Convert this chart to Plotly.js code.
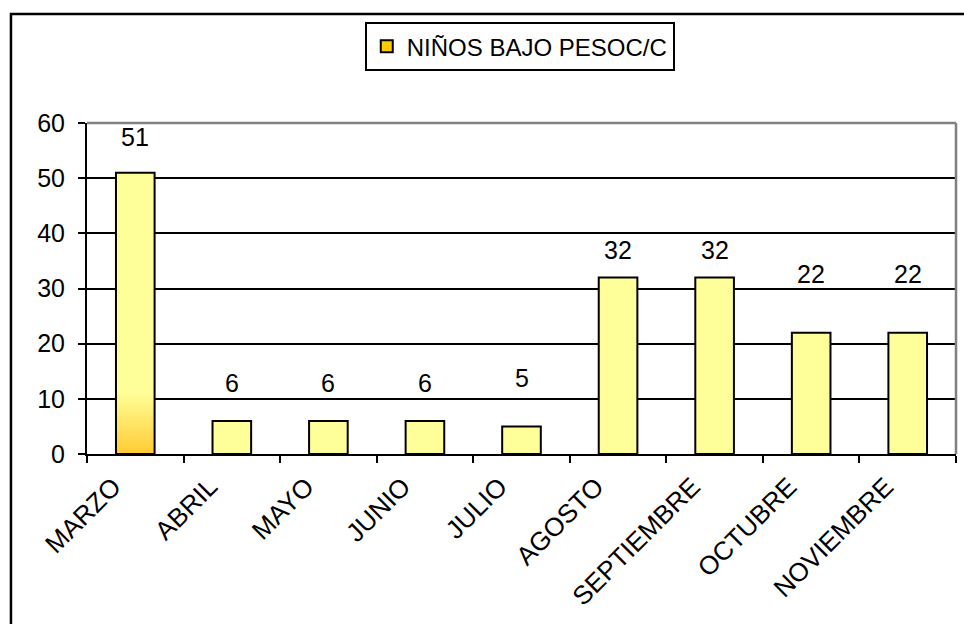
<!DOCTYPE html>
<html>
<head>
<meta charset="utf-8">
<script src="https://cdn.plot.ly/plotly-3.0.1.min.js"></script>
<style>
  html, body { margin: 0; padding: 0; background: #ffffff; }
  #chart { width: 964px; height: 624px; }
</style>
</head>
<body>
<div id="chart"></div>
<script>
// Monthly count of underweight children
const months = ['MARZO', 'ABRIL', 'MAYO', 'JUNIO', 'JULIO', 'AGOSTO', 'SEPTIEMBRE', 'OCTUBRE', 'NOVIEMBRE'];
const counts = [51, 6, 6, 6, 5, 32, 32, 22, 22];
const seriesName = 'NIÑOS BAJO PESOC/C';
const yTicks = [0, 10, 20, 30, 40, 50, 60];

const FONT = 'Liberation Sans, Arial, sans-serif';
const BAR_FILL = '#FFFF99';
const FIRST_FILL = '#FFCC00';

// pixel lift of each value label above its bar (hand-placed labels)
const labelLift = [20, 22, 22, 22, 32, 11, 11, 43, 43];

// first bar gets a warm tone (also used for the legend swatch)
const barColors = months.map((m, i) => (i === 0 ? FIRST_FILL : BAR_FILL));

const trace = {
  type: 'bar',
  name: seriesName,
  x: months,
  y: counts,
  width: 0.4,
  marker: { color: barColors, line: { color: '#000000', width: 2 } },
  hoverinfo: 'x+y',
  showlegend: true
};

// value labels above each bar
const valueLabels = months.map((m, i) => ({
  x: m, y: counts[i], xref: 'x', yref: 'y',
  text: String(counts[i]),
  showarrow: false,
  yanchor: 'bottom',
  yshift: labelLift[i],
  font: { family: FONT, size: 25, color: '#000000' }
}));

const layout = {
  width: 964,
  height: 624,
  paper_bgcolor: '#ffffff',
  plot_bgcolor: '#ffffff',
  margin: { l: 87, r: 8, t: 123, b: 170 },
  font: { family: FONT, size: 24, color: '#000000' },
  bargap: 0.6,
  showlegend: true,
  legend: {
    x: 0.498, xanchor: 'center',
    y: 1.305, yanchor: 'top',
    orientation: 'h',
    bgcolor: '#ffffff',
    bordercolor: '#000000',
    borderwidth: 2,
    font: { family: FONT, size: 24, color: '#000000' }
  },
  xaxis: {
    type: 'category',
    showgrid: false,
    showline: true,
    linecolor: '#000000',
    linewidth: 2,
    ticks: 'outside',
    tickson: 'boundaries',
    ticklen: 7,
    tickwidth: 2,
    tickcolor: '#000000',
    tickangle: -45,
    ticklabelshift: -22,
    ticklabelstandoff: 5,
    tickfont: { family: FONT, size: 26, color: '#000000' },
    zeroline: false
  },
  yaxis: {
    range: [0, 60],
    tickvals: yTicks,
    ticktext: yTicks.map(String),
    showgrid: true,
    gridcolor: '#000000',
    gridwidth: 2,
    showline: true,
    linecolor: '#000000',
    linewidth: 2,
    ticks: 'outside',
    ticklen: 7,
    tickwidth: 2,
    tickcolor: '#000000',
    ticklabelstandoff: 8,
    tickfont: { family: FONT, size: 25, color: '#000000' },
    zeroline: false,
    fixedrange: true
  },
  annotations: valueLabels,
  shapes: [
    // grey plot-area frame on top and right
    { type: 'line', xref: 'paper', yref: 'paper', x0: 0, x1: 1, y0: 1, y1: 1,
      line: { color: '#808080', width: 2.5 }, layer: 'above' },
    { type: 'line', xref: 'paper', yref: 'paper', x0: 1, x1: 1, y0: 0, y1: 1,
      line: { color: '#808080', width: 2.5 }, layer: 'above' },
    // outer chart frame
    { type: 'rect', xref: 'paper', yref: 'paper',
      x0: -0.0875, x1: 1.05, y0: -0.6, y1: 1.329,
      line: { color: '#000000', width: 2.5 }, layer: 'above' }
  ]
};

Plotly.newPlot('chart', [trace], layout, { displayModeBar: false, staticPlot: true }).then(function (gd) {
  // vertical gradient for the first bar: pale yellow fading to amber at the base
  const svg = gd.querySelector('.main-svg');
  const ns = 'http://www.w3.org/2000/svg';
  let defs = svg.querySelector('defs');
  if (!defs) { defs = document.createElementNS(ns, 'defs'); svg.insertBefore(defs, svg.firstChild); }
  const grad = document.createElementNS(ns, 'linearGradient');
  grad.setAttribute('id', 'firstBarFill');
  grad.setAttribute('x1', '0'); grad.setAttribute('y1', '0');
  grad.setAttribute('x2', '0'); grad.setAttribute('y2', '1');
  [['0', BAR_FILL], ['0.78', BAR_FILL], ['1', '#FFCC33']].forEach(function (s) {
    const stop = document.createElementNS(ns, 'stop');
    stop.setAttribute('offset', s[0]);
    stop.setAttribute('stop-color', s[1]);
    grad.appendChild(stop);
  });
  defs.appendChild(grad);
  const firstBar = gd.querySelector('.barlayer .trace .point path');
  if (firstBar) firstBar.style.fill = 'url(#firstBarFill)';
});
</script>
</body>
</html>
